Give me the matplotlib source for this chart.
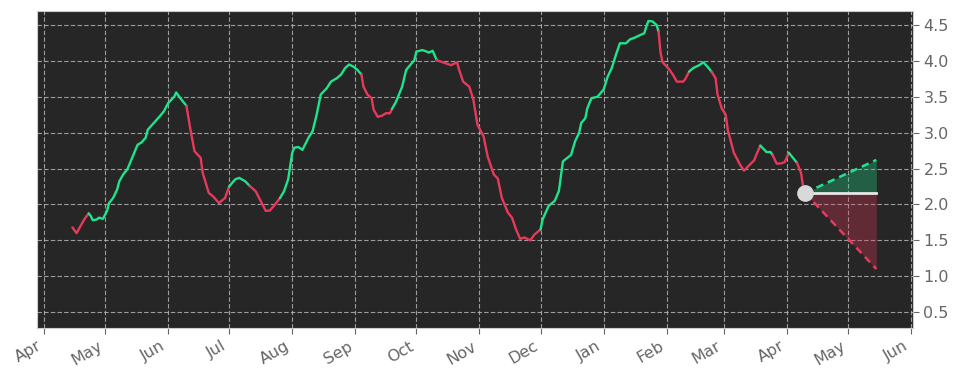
import pandas as pd
import matplotlib
matplotlib.use('Agg')
import matplotlib.pyplot as plt
import matplotlib.dates as mdates

# Series values (days after 2022-04-01, value)
start = pd.Timestamp('2022-04-01')
days = [14, 16, 18, 20, 22, 23, 24, 26, 27, 29, 31, 32, 34, 36, 37, 39, 41, 43, 46, 48,
        50, 51, 54, 57, 59, 61, 64, 65, 67, 70, 72, 74, 77, 78, 81, 83, 86, 89, 91, 94,
        96, 99, 101, 104, 107, 109, 111, 113, 116, 118, 120, 122, 123, 125, 127, 130, 132, 134, 136, 139,
        141, 144, 146, 148, 150, 152, 154, 156, 157, 159, 161, 162, 164, 166, 168, 170, 171, 173, 174, 176,
        178, 182, 183, 186, 188, 189, 191, 193, 195, 197, 200, 203, 204, 206, 209, 211, 213, 216, 218, 221,
        223, 225, 228, 230, 232, 234, 236, 239, 241, 244, 245, 248, 251, 253, 255, 259, 261, 263, 264, 266,
        267, 269, 272, 275, 277, 279, 281, 283, 286, 288, 290, 293, 295, 296, 297, 299, 301, 302, 303, 304,
        307, 309, 311, 314, 315, 317, 319, 322, 324, 326, 328, 330, 331, 333, 335, 336, 339, 342, 344, 346,
        349, 350, 352, 354, 355, 357, 358, 360, 362, 364, 366, 368, 370, 372, 373, 374]
values = [1.68, 1.60, 1.70, 1.80, 1.875, 1.84, 1.78, 1.79, 1.815, 1.80, 1.91, 2.02, 2.09, 2.21, 2.32, 2.42, 2.49, 2.625, 2.83, 2.865,
          2.93, 3.04, 3.135, 3.23, 3.30, 3.41, 3.50, 3.56, 3.48, 3.375, 3.04, 2.74, 2.65, 2.44, 2.16, 2.115, 2.02, 2.09, 2.25, 2.35,
          2.37, 2.32, 2.26, 2.185, 2.02, 1.91, 1.915, 1.98, 2.09, 2.185, 2.35, 2.72, 2.79, 2.80, 2.76, 2.93, 3.02, 3.25, 3.53, 3.62,
          3.71, 3.76, 3.81, 3.90, 3.95, 3.92, 3.875, 3.81, 3.64, 3.53, 3.48, 3.32, 3.22, 3.235, 3.27, 3.27, 3.33, 3.43, 3.50, 3.64,
          3.875, 4.01, 4.13, 4.15, 4.13, 4.115, 4.14, 4.01, 3.99, 3.97, 3.94, 3.98, 3.875, 3.71, 3.64, 3.46, 3.11, 2.95, 2.67, 2.42,
          2.36, 2.09, 1.885, 1.815, 1.65, 1.52, 1.54, 1.50, 1.58, 1.65, 1.79, 1.98, 2.05, 2.185, 2.60, 2.69, 2.88, 3.00, 3.135, 3.20,
          3.34, 3.48, 3.50, 3.60, 3.78, 3.90, 4.08, 4.245, 4.245, 4.30, 4.32, 4.36, 4.385, 4.48, 4.555, 4.55, 4.50, 4.41, 4.11, 3.98,
          3.89, 3.81, 3.71, 3.71, 3.74, 3.85, 3.90, 3.94, 3.98, 3.92, 3.85, 3.76, 3.53, 3.34, 3.25, 3.04, 2.72, 2.555, 2.47, 2.53,
          2.615, 2.69, 2.82, 2.76, 2.73, 2.73, 2.69, 2.57, 2.57, 2.59, 2.72, 2.65, 2.58, 2.44, 2.25, 2.16]

# Uptrend periods (green); everything else is a downtrend (red)
up_periods = [(22, 70), (91, 101), (116, 156), (171, 193), (244, 302), (317, 328), (352, 358), (366, 370)]

# Forecast cone
fc_days = [374, 409]
fc_mid = [2.16, 2.16]
fc_high = [2.16, 2.62]
fc_low = [2.16, 1.10]

green = '#1ee48c'
red = '#e8395b'

dates = start + pd.to_timedelta(days, unit='D')
fc_dates = start + pd.to_timedelta(fc_days, unit='D')


def is_up(d):
    return any(a <= d < b for a, b in up_periods)


fig = plt.figure(figsize=(9.59, 3.81), dpi=100)
ax = fig.add_axes([0.0386, 0.139, 0.9134, 0.832])
ax.set_facecolor('#262626')

# draw the line in runs of the same colour
i = 0
n = len(days)
while i < n - 1:
    up = is_up(days[i])
    j = i
    while j < n - 1 and is_up(days[j]) == up:
        j += 1
    ax.plot(dates[i:j + 1], values[i:j + 1], color=green if up else red, lw=1.7,
            solid_capstyle='round', zorder=3)
    i = j

# forecast
ax.fill_between(fc_dates, fc_mid, fc_high, color=green, alpha=0.3, lw=0, zorder=2)
ax.fill_between(fc_dates, fc_low, fc_mid, color=red, alpha=0.3, lw=0, zorder=2)
ax.plot(fc_dates, fc_high, color=green, lw=1.8, ls=(0, (3, 2)), zorder=3)
ax.plot(fc_dates, fc_low, color=red, lw=1.8, ls=(0, (3, 2)), zorder=3)
ax.plot(fc_dates, fc_mid, color='#e6e6e6', lw=2, zorder=4)
ax.plot(fc_dates[:1], fc_mid[:1], 'o', color='#d9d9d9', ms=11, zorder=5)

# axes
ax.set_xlim(start - pd.Timedelta(days=3.4), start + pd.Timedelta(days=427))
ax.set_ylim(0.278, 4.694)
ax.xaxis.set_major_locator(mdates.MonthLocator())
ax.xaxis.set_major_formatter(mdates.DateFormatter('%b'))
ax.yaxis.tick_right()
ax.set_yticks([0.5, 1.0, 1.5, 2.0, 2.5, 3.0, 3.5, 4.0, 4.5])
ax.grid(True, color='#bbbbbb', linestyle=(0, (4, 2)), lw=0.8, alpha=0.8)
ax.tick_params(colors='#666666', labelsize=11.5, length=4)
for lab in ax.get_xticklabels():
    lab.set_rotation(30)
    lab.set_ha('right')
for s in ax.spines.values():
    s.set_color('#cccccc')

fig.savefig('out.png', dpi=100)
